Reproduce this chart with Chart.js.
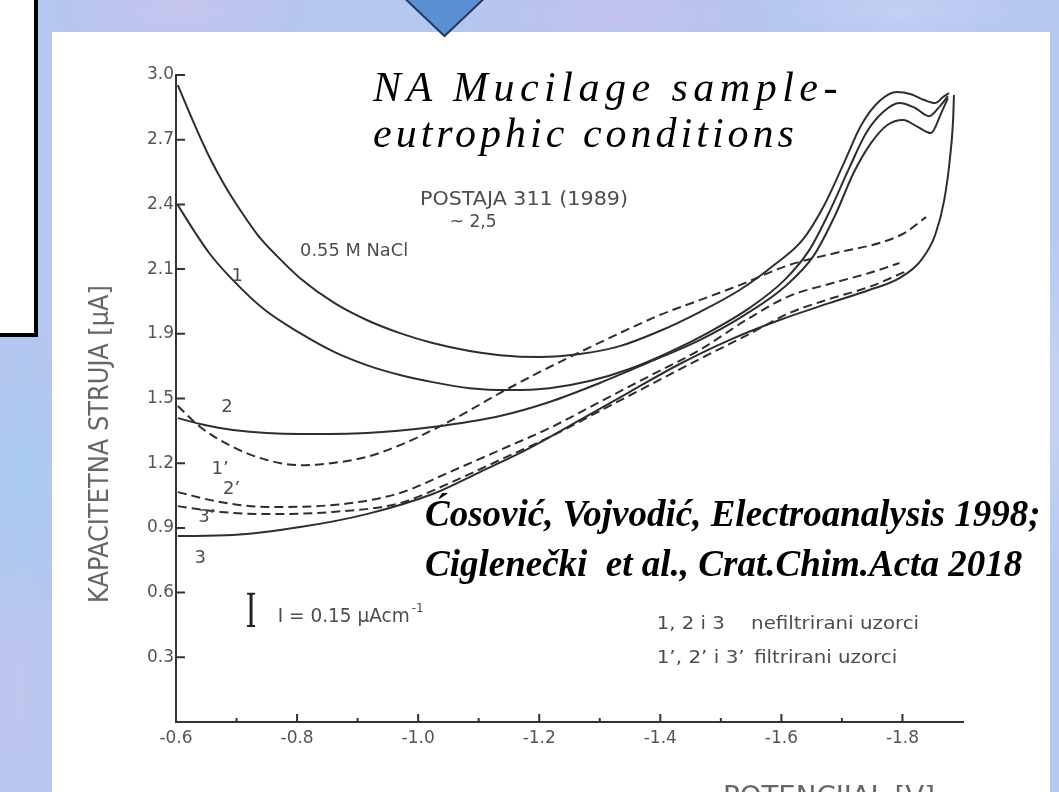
<!DOCTYPE html>
<html lang="hr">
<head>
  <meta charset="UTF-8" />
  <title>Kapacitetna struja - POSTAJA 311 (1989)</title>
  <style>
    html, body {
      margin: 0;
      width: 1059px;
      height: 792px;
      overflow: hidden;
    }
    body {
      position: relative;
      background-color: #b5c6ef;
      background-image:
        radial-gradient(ellipse 130px 40px at 180px 12px, rgba(200,196,238,.9), transparent),
        radial-gradient(ellipse 160px 30px at 620px 16px, rgba(198,192,236,.8), transparent),
        radial-gradient(ellipse 140px 35px at 900px 10px, rgba(196,210,244,.9), transparent),
        radial-gradient(ellipse 40px 160px at 24px 480px, rgba(168,204,240,.9), transparent),
        radial-gradient(ellipse 40px 140px at 20px 690px, rgba(196,198,238,.8), transparent),
        radial-gradient(ellipse 30px 200px at 1055px 400px, rgba(200,212,246,.9), transparent);
    }
    #panel {
      position: absolute;
      left: 52px;
      top: 32px;
      width: 998px;
      height: 780px;
      background: #fff;
    }
    #box {
      position: absolute;
      left: -6px;
      top: -6px;
      width: 44px;
      height: 343px;
      box-sizing: border-box;
      border: 4px solid #000;
      background: #fff;
    }
    #arrow, #chart {
      position: absolute;
      left: 0;
      top: 0;
    }
    .title {
      position: absolute;
      left: 373px;
      top: 64px;
      font: italic 42px/46px "Liberation Serif", serif;
      color: #000;
      white-space: pre;
    }
    .title span { display: block; }
    .title .l1 { letter-spacing: 5.5px; }
    .title .l2 { letter-spacing: 4px; }
    .cite {
      position: absolute;
      left: 425px;
      top: 489px;
      font: italic bold 37px/50px "Liberation Serif", serif;
      color: #000;
      white-space: pre;
    }
  </style>
</head>
<body>
  <div id="panel"></div>
  <div id="box"></div>
  <svg id="arrow" width="1059" height="40">
    <polygon points="398,-8 491,-8 444.5,36" fill="#5b8fd4" stroke="#213a66" stroke-width="2" />
  </svg>

  <canvas id="chart" width="1059" height="810"></canvas>

  <div class="title"><span class="l1">NA Mucilage sample-</span><span class="l2">eutrophic conditions</span></div>
  <div class="cite">Ćosović, Vojvodić, Electroanalysis 1998;
Ciglenečki  et al., Crat.Chim.Acta 2018</div>

  <script src="https://cdn.jsdelivr.net/npm/chart.js"></script>
  <script>
    // axis ticks (the original drawing labels 1.8 as "1.9")
    const yTickValues = [0.3, 0.6, 0.9, 1.2, 1.5, 1.8, 2.1, 2.4, 2.7, 3.0];
    const yTickLabels = ['0.3', '0.6', '0.9', '1.2', '1.5', '1.9', '2.1', '2.4', '2.7', '3.0'];
    const xTickValues = [-0.6, -0.8, -1.0, -1.2, -1.4, -1.6, -1.8];
    const xTickLabels = ['-0.6', '-0.8', '-1.0', '-1.2', '-1.4', '-1.6', '-1.8'];
    const xMinorTicks = [-0.7, -0.9, -1.1, -1.3, -1.5, -1.7];

    // solid curves (nefiltrirani uzorci), potential [V] / current [uA]
    const potS1 = [-0.603, -0.631, -0.656, -0.681, -0.706, -0.735, -0.767, -0.805, -0.862, -0.915, -0.970, -1.024, -1.085, -1.135, -1.201, -1.267, -1.333, -1.399, -1.465, -1.531, -1.588, -1.635, -1.671, -1.704, -1.732, -1.762, -1.791, -1.814, -1.836, -1.854, -1.867, -1.877];
    const curS1 = [2.953, 2.768, 2.615, 2.485, 2.374, 2.258, 2.160, 2.058, 1.942, 1.864, 1.803, 1.757, 1.720, 1.701, 1.692, 1.706, 1.743, 1.813, 1.901, 2.003, 2.119, 2.235, 2.397, 2.596, 2.768, 2.879, 2.921, 2.911, 2.884, 2.870, 2.898, 2.916];

    const potS2 = [-0.603, -0.631, -0.656, -0.694, -0.747, -0.805, -0.862, -0.915, -0.970, -1.024, -1.085, -1.151, -1.217, -1.283, -1.349, -1.415, -1.481, -1.547, -1.605, -1.646, -1.679, -1.712, -1.740, -1.768, -1.795, -1.821, -1.844, -1.862, -1.875];
    const curS2 = [2.397, 2.272, 2.170, 2.049, 1.910, 1.803, 1.715, 1.655, 1.609, 1.576, 1.548, 1.539, 1.548, 1.581, 1.637, 1.715, 1.808, 1.919, 2.049, 2.188, 2.364, 2.568, 2.731, 2.828, 2.870, 2.847, 2.809, 2.856, 2.902];

    const potS3 = [-0.603, -0.640, -0.694, -0.805, -0.915, -1.024, -1.135, -1.217, -1.300, -1.382, -1.465, -1.539, -1.605, -1.654, -1.689, -1.720, -1.748, -1.775, -1.801, -1.826, -1.847, -1.864, -1.875];
    const curS3 = [1.409, 1.382, 1.354, 1.335, 1.340, 1.368, 1.419, 1.484, 1.572, 1.669, 1.771, 1.887, 2.017, 2.165, 2.351, 2.550, 2.684, 2.768, 2.791, 2.758, 2.731, 2.823, 2.893];

    const potS4 = [-0.603, -0.694, -0.805, -0.915, -1.024, -1.102, -1.184, -1.267, -1.349, -1.432, -1.514, -1.597, -1.679, -1.745, -1.795, -1.831, -1.854, -1.869, -1.879, -1.884, -1.885];
    const curS4 = [0.862, 0.867, 0.904, 0.964, 1.057, 1.159, 1.270, 1.400, 1.530, 1.660, 1.771, 1.864, 1.942, 2.003, 2.058, 2.142, 2.258, 2.420, 2.629, 2.814, 2.907];

    // dashed curves (filtrirani uzorci)
    const potD1 = [-0.603, -0.640, -0.694, -0.750, -0.805, -0.859, -0.915, -0.970, -1.024, -1.080, -1.135, -1.201, -1.267, -1.333, -1.399, -1.465, -1.531, -1.613, -1.696, -1.762, -1.803, -1.839];
    const curD1 = [1.465, 1.368, 1.275, 1.215, 1.191, 1.201, 1.229, 1.284, 1.354, 1.437, 1.525, 1.623, 1.715, 1.803, 1.887, 1.956, 2.026, 2.119, 2.179, 2.221, 2.267, 2.341];

    const potD2 = [-0.603, -0.673, -0.750, -0.859, -0.970, -1.052, -1.135, -1.217, -1.300, -1.382, -1.465, -1.547, -1.613, -1.679, -1.745, -1.795];
    const curD2 = [1.066, 1.020, 0.997, 1.006, 1.062, 1.159, 1.261, 1.363, 1.484, 1.604, 1.725, 1.873, 1.975, 2.031, 2.082, 2.128];

    const potD3 = [-0.603, -0.673, -0.755, -0.859, -0.970, -1.052, -1.135, -1.217, -1.300, -1.382, -1.465, -1.547, -1.613, -1.679, -1.745, -1.803];
    const curD3 = [1.001, 0.974, 0.964, 0.974, 1.015, 1.108, 1.215, 1.321, 1.442, 1.562, 1.683, 1.799, 1.896, 1.961, 2.017, 2.086];

    const ink = '#2e2e2e';
    const grey = '#4d4d4d';

    function curve(pot, cur, dashed) {
      return {
        data: pot.map((e, i) => ({ x: e, y: cur[i] })),
        showLine: true,
        borderColor: ink,
        borderWidth: 2,
        borderDash: dashed ? [9, 5] : [],
        pointRadius: 0,
        cubicInterpolationMode: 'monotone',
        fill: false
      };
    }

    // draws text squeezed / stretched to a given width
    function fitText(ctx, text, px, py, width, size) {
      ctx.font = size + 'px "DejaVu Sans", sans-serif';
      const k = width ? width / ctx.measureText(text).width : 1;
      ctx.save();
      ctx.translate(px, py);
      ctx.scale(k, 1);
      ctx.fillText(text, 0, 0);
      ctx.restore();
    }

    // labels written on the figure, anchored in data units
    const notes = [
      { text: 'POSTAJA 311 (1989)', x: -1.003, y: 2.397, w: 208, size: 19 },
      { text: '~ 2,5', x: -1.052, y: 2.295, w: 47, size: 18 },
      { text: '0.55 M NaCl', x: -0.805, y: 2.160, w: 108, size: 17 },
      { text: 'I = 0.15 μAcm', x: -0.768, y: 0.464, w: 132, size: 19 },
      { text: '1, 2 i 3', x: -1.394, y: 0.431, w: 68, size: 18 },
      { text: 'nefiltrirani uzorci', x: -1.550, y: 0.431, w: 168, size: 18 },
      { text: '1’, 2’ i 3’', x: -1.394, y: 0.274, w: 88, size: 18 },
      { text: 'filtrirani uzorci', x: -1.555, y: 0.274, w: 143, size: 18 }
    ];
    const curveTags = [
      { text: '1', x: -0.701, y: 2.068 },
      { text: '2', x: -0.684, y: 1.460 },
      { text: '1’', x: -0.673, y: 1.173 },
      { text: '2’', x: -0.692, y: 1.080 },
      { text: '3’', x: -0.651, y: 0.950 },
      { text: '3', x: -0.640, y: 0.760 }
    ];

    const sketchExtras = {
      id: 'sketchExtras',
      afterDraw(chart) {
        const { ctx, chartArea: area, scales: { x, y } } = chart;
        ctx.save();

        // ticks point inwards in the original
        ctx.strokeStyle = '#333';
        ctx.lineWidth = 2;
        ctx.beginPath();
        yTickValues.forEach(v => {
          const py = y.getPixelForValue(v);
          ctx.moveTo(area.left, py);
          ctx.lineTo(area.left + 9, py);
        });
        xTickValues.forEach(v => {
          const px = x.getPixelForValue(v);
          ctx.moveTo(px, area.bottom);
          ctx.lineTo(px, area.bottom - 8);
        });
        xMinorTicks.forEach(v => {
          const px = x.getPixelForValue(v);
          ctx.moveTo(px, area.bottom);
          ctx.lineTo(px, area.bottom - 4);
        });
        ctx.stroke();

        // scale bar: I = 0.15
        const bx = x.getPixelForValue(-0.724);
        const b0 = y.getPixelForValue(0.445);
        const b1 = y.getPixelForValue(0.595);
        ctx.strokeStyle = '#222';
        ctx.lineWidth = 3;
        ctx.beginPath();
        ctx.moveTo(bx, b0);
        ctx.lineTo(bx, b1);
        ctx.stroke();
        ctx.lineWidth = 2;
        ctx.beginPath();
        ctx.moveTo(bx - 4, b0); ctx.lineTo(bx + 4, b0);
        ctx.moveTo(bx - 4, b1); ctx.lineTo(bx + 4, b1);
        ctx.stroke();

        ctx.fillStyle = grey;
        ctx.textAlign = 'left';
        ctx.textBaseline = 'alphabetic';
        notes.forEach(n => {
          fitText(ctx, n.text, x.getPixelForValue(n.x), y.getPixelForValue(n.y), n.w, n.size);
        });
        // superscript of the unit
        fitText(ctx, '-1', x.getPixelForValue(-0.768) + 134, y.getPixelForValue(0.464) - 10, 12, 12);

        ctx.textAlign = 'center';
        ctx.textBaseline = 'middle';
        curveTags.forEach(t => {
          fitText(ctx, t.text, x.getPixelForValue(t.x), y.getPixelForValue(t.y), null, 18);
        });

        // axis titles
        ctx.fillStyle = '#666';
        ctx.save();
        ctx.translate(area.left - 75, 444);
        ctx.rotate(-Math.PI / 2);
        fitText(ctx, 'KAPACITETNA STRUJA [μA]', 0, 0, 318, 27);
        ctx.restore();
        ctx.textAlign = 'left';
        ctx.textBaseline = 'alphabetic';
        fitText(ctx, 'POTENCIJAL [V]', 723, 805, 212, 26);

        ctx.restore();
      }
    };

    const ctx = document.getElementById('chart').getContext('2d');
    new Chart(ctx, {
      type: 'scatter',
      data: {
        datasets: [
          curve(potS1, curS1),
          curve(potS2, curS2),
          curve(potS3, curS3),
          curve(potS4, curS4),
          curve(potD1, curD1, true),
          curve(potD2, curD2, true),
          curve(potD3, curD3, true)
        ]
      },
      options: {
        responsive: false,
        animation: false,
        devicePixelRatio: 1,
        layout: { padding: { left: 0, top: 75, right: 96, bottom: 0 } },
        plugins: {
          legend: { display: false },
          tooltip: { enabled: false }
        },
        scales: {
          x: {
            type: 'linear',
            reverse: true,
            min: -1.9,
            max: -0.6,
            afterBuildTicks: s => { s.ticks = xTickValues.map(v => ({ value: v })); },
            afterFit: s => { s.height = 88; },
            grid: { display: false, drawTicks: false },
            border: { display: true, color: '#333', width: 2 },
            ticks: {
              padding: 6,
              color: '#555',
              font: { family: 'DejaVu Sans', size: 17 },
              maxRotation: 0,
              autoSkip: false,
              callback: v => xTickLabels[xTickValues.findIndex(t => Math.abs(t - v) < 1e-6)]
            }
          },
          y: {
            type: 'linear',
            min: 0,
            max: 3.0,
            afterBuildTicks: s => { s.ticks = yTickValues.map(v => ({ value: v })); },
            afterFit: s => { s.width = 176; },
            grid: { display: false, drawTicks: false },
            border: { display: true, color: '#333', width: 2 },
            ticks: {
              padding: 2,
              color: '#555',
              font: { family: 'DejaVu Sans', size: 17 },
              autoSkip: false,
              callback: v => yTickLabels[yTickValues.findIndex(t => Math.abs(t - v) < 1e-6)]
            }
          }
        }
      },
      plugins: [sketchExtras]
    });
  </script>
</body>
</html>
